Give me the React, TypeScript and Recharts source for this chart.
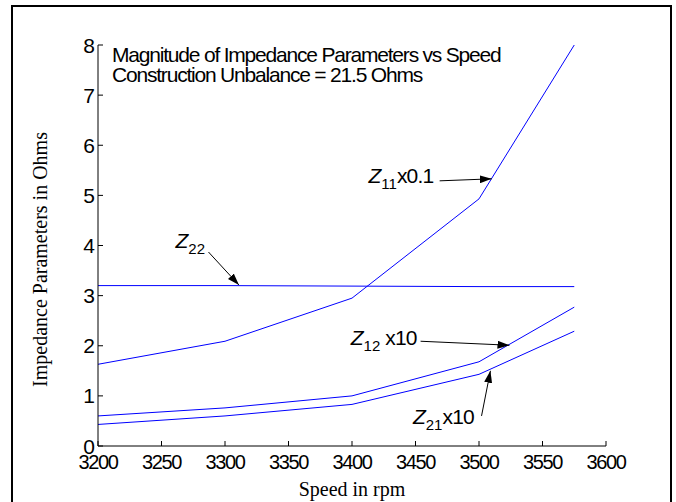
import React from "react";
import { LineChart, Line, XAxis, YAxis } from "recharts";

// speeds (rpm) and impedance magnitudes (Ohms), scaled as labelled
const SPEED = [3200, 3300, 3400, 3500, 3575];
const Z11_X01 = [1.63, 2.09, 2.95, 4.93, 8.0];
const Z22 = [3.2, 3.2, 3.19, 3.18, 3.18];
const Z12_X10 = [0.6, 0.76, 1.0, 1.68, 2.77];
const Z21_X10 = [0.43, 0.6, 0.83, 1.43, 2.29];

const X_TICKS = [3200, 3250, 3300, 3350, 3400, 3450, 3500, 3550, 3600];
const Y_TICKS = [0, 1, 2, 3, 4, 5, 6, 7, 8];

const TITLE = [
  "Magnitude of Impedance Parameters vs Speed",
  "Construction Unbalance = 21.5 Ohms",
];

// annotation labels: text start and arrow in data units
const NOTES = [
  { sub: "11", tail: "x0.1", tx: 3413, ty: 5.25, ax: 3469, ay: 5.29, bx: 3510, by: 5.33 },
  { sub: "22", tail: "", tx: 3261, ty: 3.96, ax: 3287, ay: 3.87, bx: 3311, by: 3.21 },
  { sub: "12", tail: " x10", tx: 3399, ty: 2.01, ax: 3454, ay: 2.09, bx: 3524, by: 2.01 },
  { sub: "21", tail: "x10", tx: 3448, ty: 0.44, ax: 3502, ay: 0.6, bx: 3509, by: 1.5 },
];

const W = 676;
const H = 502;
const LEFT = 98;
const RIGHT = 606;
const TOP = 45;
const BOTTOM = 446;

const sans = "'Liberation Sans', Arial, Helvetica, sans-serif";
const serif = "'Liberation Serif', 'Times New Roman', serif";

const data = SPEED.map((s, i) => ({
  speed: s,
  z11: Z11_X01[i],
  z22: Z22[i],
  z12: Z12_X10[i],
  z21: Z21_X10[i],
}));

const px = (v: number) => LEFT + ((v - 3200) / 400) * (RIGHT - LEFT);
const py = (v: number) => BOTTOM - (v / 8) * (BOTTOM - TOP);

function XTick(props: any) {
  const { x, payload } = props;
  return (
    <g>
      <line x1={x} y1={BOTTOM} x2={x} y2={BOTTOM - 5} stroke="#000" />
      <text
        x={x}
        y={BOTTOM + 23}
        textAnchor="middle"
        fontFamily={sans}
        fontSize={20}
        letterSpacing={-1.4}
        fill="#000"
      >
        {payload.value}
      </text>
    </g>
  );
}

function YTick(props: any) {
  const { y, payload } = props;
  return (
    <g>
      <line x1={LEFT} y1={y} x2={LEFT + 5} y2={y} stroke="#000" />
      <text
        x={LEFT - 3}
        y={y + 7.5}
        textAnchor="end"
        fontFamily={sans}
        fontSize={21}
        fill="#000"
      >
        {payload.value}
      </text>
    </g>
  );
}

export default function App() {
  return (
    <div
      style={{
        position: "relative",
        width: W,
        height: H,
        overflow: "hidden",
        background: "#fff",
      }}
    >
      <style>{`body{margin:0}`}</style>
      <div
        style={{
          position: "absolute",
          left: 11,
          top: 5,
          width: 657,
          height: 560,
          border: "2px solid #000",
        }}
      />
      <div style={{ position: "absolute", left: 0, top: 0 }}>
        <LineChart
          width={W}
          height={H}
          data={data}
          margin={{ top: TOP, right: W - RIGHT, bottom: 26, left: LEFT - 40 }}
        >
          <XAxis
            dataKey="speed"
            type="number"
            domain={[3200, 3600]}
            ticks={X_TICKS}
            height={30}
            tickLine={false}
            tickSize={0}
            tick={<XTick />}
            axisLine={{ stroke: "#000" }}
            label={{
              value: "Speed in rpm",
              position: "bottom",
              offset: 0,
              dy: 6,
              fontFamily: serif,
              fontSize: 20,
              fill: "#000",
            }}
          />
          <YAxis
            type="number"
            domain={[0, 8]}
            ticks={Y_TICKS}
            width={40}
            tickLine={false}
            tickSize={0}
            tick={<YTick />}
            axisLine={{ stroke: "#000" }}
            label={{
              value: "Impedance Parameters in Ohms",
              angle: -90,
              position: "center",
              dx: -38,
              dy: 14,
              fontFamily: serif,
              fontSize: 20,
              fill: "#000",
            }}
          />
          <Line dataKey="z11" stroke="#0000ff" strokeWidth={1} dot={false} isAnimationActive={false} />
          <Line dataKey="z22" stroke="#0000ff" strokeWidth={1} dot={false} isAnimationActive={false} />
          <Line dataKey="z12" stroke="#0000ff" strokeWidth={1} dot={false} isAnimationActive={false} />
          <Line dataKey="z21" stroke="#0000ff" strokeWidth={1} dot={false} isAnimationActive={false} />
        </LineChart>
      </div>
      <svg
        width={W}
        height={H}
        style={{ position: "absolute", left: 0, top: 0, pointerEvents: "none" }}
      >
        <defs>
          <marker
            id="head"
            viewBox="0 0 12 8"
            refX={12}
            refY={4}
            markerWidth={12}
            markerHeight={8}
            markerUnits="userSpaceOnUse"
            orient="auto"
          >
            <path d="M0,0 L12,4 L0,8 Z" fill="#000" />
          </marker>
        </defs>
        {TITLE.map((t, i) => (
          <text
            key={t}
            x={112}
            y={62 + i * 20}
            fontFamily={sans}
            fontSize={21}
            letterSpacing={-1.2}
            fill="#000"
          >
            {t}
          </text>
        ))}
        {NOTES.map((n) => (
          <g key={n.sub}>
            <text
              x={px(n.tx)}
              y={py(n.ty)}
              fontFamily={sans}
              fontSize={21}
              fill="#000"
              textAnchor="start"
            >
              <tspan fontStyle="italic">Z</tspan>
              <tspan fontSize={15} dy={6}>
                {n.sub}
              </tspan>
              {n.tail ? (
                <tspan dy={-6} letterSpacing={-0.8}>
                  {n.tail}
                </tspan>
              ) : null}
            </text>
            <line
              x1={px(n.ax)}
              y1={py(n.ay)}
              x2={px(n.bx)}
              y2={py(n.by)}
              stroke="#000"
              strokeWidth={1}
              markerEnd="url(#head)"
            />
          </g>
        ))}
      </svg>
    </div>
  );
}
